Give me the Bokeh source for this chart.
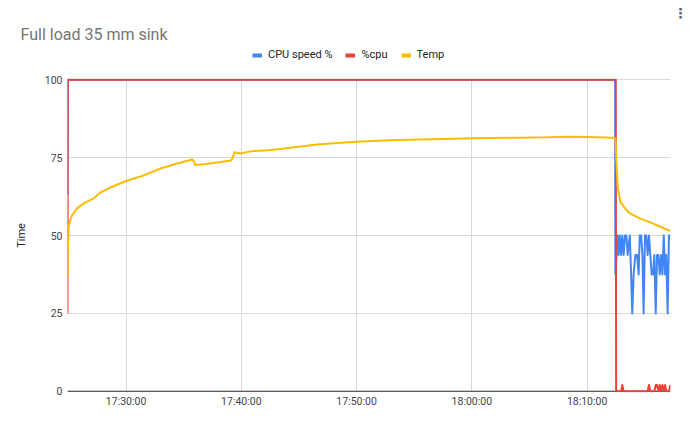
import pandas as pd
from bokeh.plotting import figure
from bokeh.layouts import column
from bokeh.models import (Range1d, FixedTicker, DatetimeTickFormatter, Legend, LegendItem, Span, Label)
from bokeh.embed import file_html
from bokeh.resources import INLINE

DAY = "2024-01-01 "

# ---------------- data ----------------
temp_time = ["17:24:55", "17:24:57", "17:25:01", "17:25:10", "17:25:19", "17:25:45", "17:26:19",
             "17:27:11", "17:27:46", "17:28:38", "17:30:00", "17:31:32", "17:32:59", "17:34:26",
             "17:35:44", "17:35:52", "17:36:01", "17:36:44", "17:37:54", "17:39:07", "17:39:17",
             "17:39:24", "17:39:55", "17:40:48", "17:41:04", "17:42:20", "17:43:40", "17:45:10",
             "17:46:34", "17:48:20", "17:50:00", "17:52:57", "17:55:18", "17:57:40", "18:00:00",
             "18:03:54", "18:06:10", "18:08:18", "18:10:00", "18:12:18", "18:12:28", "18:12:32",
             "18:12:39", "18:12:53", "18:13:19", "18:13:44", "18:14:37", "18:15:29", "18:16:21",
             "18:17:14"]
temp_val = [37.0, 45.0, 52.8, 55.0, 56.5, 58.7, 60.3,
            61.9, 63.8, 65.4, 67.5, 69.3, 71.5, 73.1,
            74.4, 73.9, 72.6, 72.9, 73.4, 74.1, 75.2,
            76.7, 76.3, 77.0, 77.1, 77.4, 77.9, 78.6,
            79.2, 79.7, 80.1, 80.6, 80.8, 81.0, 81.2,
            81.4, 81.5, 81.7, 81.6, 81.4, 81.1, 74.1,
            65.6, 60.8, 58.6, 57.0, 55.4, 54.2, 52.8,
            51.4]

post_time = ["18:12:27", "18:12:39", "18:12:44", "18:12:50", "18:12:57", "18:13:03", "18:13:10",
             "18:13:17", "18:13:24", "18:13:31", "18:13:42", "18:13:49", "18:13:55", "18:14:02",
             "18:14:11", "18:14:20", "18:14:28", "18:14:34", "18:14:41", "18:14:48", "18:14:54",
             "18:15:01", "18:15:08", "18:15:15", "18:15:22", "18:15:29", "18:15:36", "18:15:43",
             "18:15:50", "18:15:57", "18:16:04", "18:16:11", "18:16:18", "18:16:25", "18:16:32",
             "18:16:39", "18:16:46", "18:16:52", "18:16:59", "18:17:06", "18:17:13"]
speed_post = [37.5, 50, 43.75, 50, 43.75, 50, 43.75,
              50, 50, 43.75, 50, 37.5, 25, 37.5,
              43.75, 43.75, 37.5, 50, 50, 43.75, 25,
              50, 50, 43.75, 50, 43.75, 37.5, 37.5,
              43.75, 25, 43.75, 43.75, 37.5, 43.75, 37.5,
              50, 37.5, 43.75, 25, 50, 50]
cpu_post = [0, 0, 0, 0, 0, 2, 0,
            0, 0, 0, 0, 0, 0, 0,
            0, 0, 0, 0, 0, 0, 0,
            0, 0, 0, 2, 0, 0, 0,
            0, 2, 2, 0, 2, 0, 2,
            0, 2, 0, 0, 0, 2]

speed_time = ["17:24:55", "17:24:56", "18:12:26"] + post_time
speed_val = [63, 100, 100] + speed_post

cpu_time = ["17:24:55", "17:24:57", "18:12:29", "18:12:31"] + post_time[1:]
cpu_val = [25, 100, 100, 0] + cpu_post[1:]

x_ticks = ["17:30:00", "17:40:00", "17:50:00", "18:00:00", "18:10:00"]
y_ticks = [0, 25, 50, 75, 100]

title_text = "Full load 35 mm sink"
y_label = "Time"
series_names = ["CPU speed %", "%cpu", "Temp"]
series_colors = ["#4285F4", "#EA4335", "#FBBC04"]


def to_dt(ts):
    return pd.to_datetime([DAY + t for t in ts])


def to_ms(ts):
    return [int(v) // 10**6 for v in to_dt(ts).astype("int64")]


FONT = "Roboto"
W = 690
TOP_H = 62
CH_H = 426 - TOP_H

# ---------------- header (title + legend) ----------------
top = figure(width=W, height=TOP_H, output_backend="svg", toolbar_location=None,
             x_axis_location=None, y_axis_location=None,
             x_range=Range1d(0, W), y_range=Range1d(0, TOP_H), min_border=0)
top.frame_align = False
top.grid.visible = False
top.outline_line_color = None
top.add_layout(Label(x=20, y=TOP_H - 34, text=title_text, text_font=FONT,
                     text_font_size="16px", text_color="#757575", text_baseline="alphabetic"))
top.add_layout(Label(x=680, y=TOP_H - 12, text="\u22ee", text_font="DejaVu Sans",
                     text_font_size="14px", text_font_style="bold", text_color="#5f6368",
                     text_baseline="middle", text_align="center"))
nan = float("nan")
proxies = [top.line([nan], [nan], line_color=c, line_width=4) for c in series_colors]
legend = Legend(items=[LegendItem(label=n, renderers=[r]) for n, r in zip(series_names, proxies)],
                orientation="horizontal", location=(252, 1),
                label_text_font=FONT, label_text_font_size="11px", label_text_color="#222222",
                glyph_width=10, glyph_height=12, label_height=12, label_standoff=6, spacing=13,
                padding=0, margin=0, border_line_color=None, background_fill_alpha=0)
top.add_layout(legend)

# ---------------- chart ----------------
x_start = to_ms([temp_time[0]])[0]
x_end = to_ms([temp_time[-1]])[0]

p = figure(width=W, height=CH_H, output_backend="svg", toolbar_location=None,
           x_axis_type="datetime",
           x_range=Range1d(x_start, x_end), y_range=Range1d(-0.4, 100.4),
           min_border_left=67, min_border_right=20, min_border_top=16, min_border_bottom=34)
p.frame_align = False
p.outline_line_color = None

p.xgrid.ticker = FixedTicker(ticks=to_ms(x_ticks))
p.ygrid.ticker = FixedTicker(ticks=y_ticks)
p.xgrid.grid_line_color = "#d9d9d9"
p.ygrid.grid_line_color = "#d9d9d9"

p.xaxis.ticker = FixedTicker(ticks=to_ms(x_ticks))
p.xaxis.formatter = DatetimeTickFormatter(hours="%H:%M:%S", minutes="%H:%M:%S", hourmin="%H:%M:%S",
                                          seconds="%H:%M:%S", minsec="%H:%M:%S")
p.yaxis.ticker = FixedTicker(ticks=y_ticks)
for ax in (p.xaxis, p.yaxis):
    ax.axis_line_color = None
    ax.major_tick_line_color = None
    ax.minor_tick_line_color = None
    ax.major_tick_out = 0
    ax.major_tick_in = 0
    ax.minor_tick_out = 0
    ax.minor_tick_in = 0
    ax.major_label_text_font = FONT
    ax.major_label_text_font_size = "10.5px"
    ax.major_label_text_color = "#444444"
p.xaxis.major_label_standoff = 2
p.yaxis.major_label_standoff = 5
p.yaxis.axis_label = y_label
p.yaxis.axis_label_text_font = FONT
p.yaxis.axis_label_text_font_size = "11px"
p.yaxis.axis_label_text_font_style = "normal"
p.yaxis.axis_label_text_color = "#222222"
p.yaxis.axis_label_standoff = 14

p.add_layout(Span(location=0, dimension="width", line_color="#333333", line_width=1, level="underlay"))

xs = [to_dt(speed_time), to_dt(cpu_time), to_dt(temp_time)]
ys = [speed_val, cpu_val, temp_val]
for x, y, c in zip(xs, ys, series_colors):
    p.line(x, y, line_color=c, line_width=2, line_join="round")

layout = column(top, p, spacing=0)
open("out.html", "w").write(file_html(layout, INLINE))
